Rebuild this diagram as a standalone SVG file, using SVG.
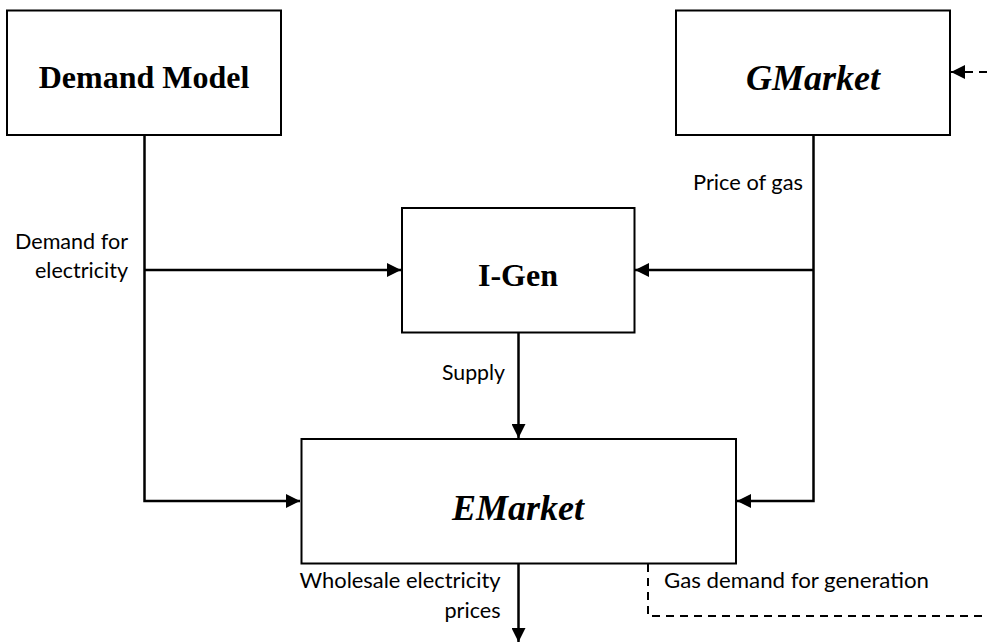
<svg xmlns="http://www.w3.org/2000/svg" width="987" height="642" viewBox="0 0 987 642">
<style>
.box{fill:#fff;stroke:#000;stroke-width:2}
.t{font-family:"Liberation Serif","Times New Roman",serif;font-weight:bold;fill:#000;text-anchor:middle}
.bi{font-style:italic;font-size:36px}
.b{font-size:32px}
.lbl{font-family:Lato,"Open Sans",sans-serif;font-size:22px;fill:#000}
.c{fill:none;stroke:#000;stroke-width:2.5}
.d{fill:none;stroke:#000;stroke-width:2;stroke-dasharray:8 6}
</style>
<defs>
<marker id="ah" markerUnits="userSpaceOnUse" markerWidth="15" markerHeight="14" refX="14" refY="7" orient="auto">
<path d="M0,0 L14,7 L0,14 z" fill="#000"/>
</marker>
</defs>
<rect width="987" height="642" fill="#fff"/>
<g id="connectors">
<path class="c" d="M144.5,135 V501 H300" marker-end="url(#ah)"/>
<path class="c" d="M144.5,270 H401" marker-end="url(#ah)"/>
<path class="c" d="M813.5,135 V501 H737" marker-end="url(#ah)"/>
<path class="c" d="M813.5,270 H635" marker-end="url(#ah)"/>
<path class="c" d="M518.5,332.5 V438" marker-end="url(#ah)"/>
<path class="c" d="M518.5,563.5 V642" marker-end="url(#ah)"/>
<path class="d" d="M648,564 V616 H987"/>
<path class="d" d="M987,72 H951" marker-end="url(#ah)"/>
<text class="lbl" x="15" y="249" textLength="113" lengthAdjust="spacingAndGlyphs">Demand for</text>
<text class="lbl" x="35" y="278" textLength="93" lengthAdjust="spacingAndGlyphs">electricity</text>
<text class="lbl" x="693" y="190" textLength="110" lengthAdjust="spacingAndGlyphs">Price of gas</text>
<text class="lbl" x="442" y="380" textLength="63" lengthAdjust="spacingAndGlyphs">Supply</text>
<text class="lbl" x="299.5" y="588" textLength="201" lengthAdjust="spacingAndGlyphs">Wholesale electricity</text>
<text class="lbl" x="444.5" y="617.5" textLength="56" lengthAdjust="spacingAndGlyphs">prices</text>
<text class="lbl" x="664" y="588" textLength="265" lengthAdjust="spacingAndGlyphs">Gas demand for generation</text>
</g>
<g id="demand-model">
<rect class="box" x="7" y="10.5" width="274" height="124.5"/>
<text class="t b" x="144" y="88">Demand Model</text>
</g>
<g id="gmarket">
<rect class="box" x="676" y="10.5" width="274" height="124.5"/>
<text class="t bi" x="813" y="90">GMarket</text>
</g>
<g id="igen">
<rect class="box" x="402" y="208" width="232.5" height="124.5"/>
<text class="t b" x="518" y="286">I-Gen</text>
</g>
<g id="emarket">
<rect class="box" x="301.5" y="439" width="434.5" height="124.5"/>
<text class="t bi" x="518" y="520">EMarket</text>
</g>
</svg>
